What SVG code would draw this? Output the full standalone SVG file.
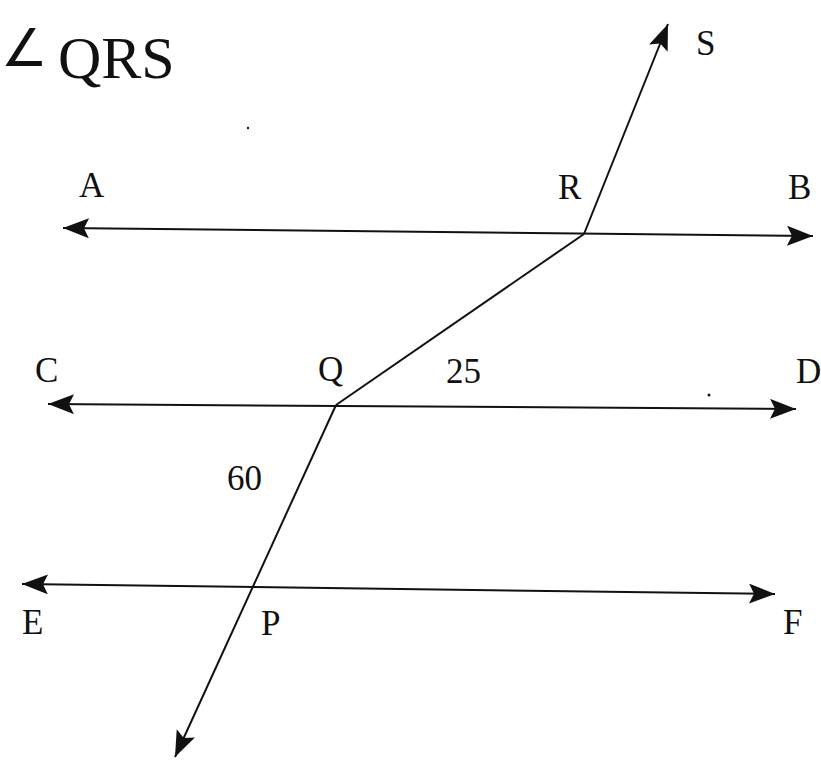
<svg xmlns="http://www.w3.org/2000/svg" width="821" height="763" viewBox="0 0 821 763">
<style>
.ln{stroke:#111;stroke-width:2;fill:none}
.lbl{font-family:"Liberation Serif","Times New Roman",serif;font-size:35px;fill:#111}
.title{font-family:"Liberation Serif","Times New Roman",serif;font-size:60px;fill:#111}
</style>
<defs>
<marker id="ah" markerUnits="userSpaceOnUse" markerWidth="28" markerHeight="22" refX="26" refY="10" orient="auto-start-reverse" viewBox="0 0 28 22">
<path d="M0,0 L26,10 L0,20 L5,10 z" fill="#111"/>
</marker>
</defs>
<rect width="821" height="763" fill="#fff"/>
<text class="title" y="78"><tspan x="1" y="66" font-family="DejaVu Sans, sans-serif" font-size="52">∠</tspan><tspan x="43" y="78" font-family="Liberation Serif, serif"> QRS</tspan></text>
<g id="connectors">
<line id="AB" class="ln" x1="63" y1="228" x2="813" y2="236" marker-start="url(#ah)" marker-end="url(#ah)"/>
<line id="CD" class="ln" x1="48" y1="404" x2="796" y2="409" marker-start="url(#ah)" marker-end="url(#ah)"/>
<line id="EF" class="ln" x1="22" y1="584" x2="775" y2="594" marker-start="url(#ah)" marker-end="url(#ah)"/>
<line id="RS" class="ln" x1="584" y1="234" x2="668" y2="24" marker-end="url(#ah)"/>
<line id="QR" class="ln" x1="336" y1="405" x2="584" y2="234"/>
<line id="QP" class="ln" x1="336" y1="405" x2="175" y2="757" marker-end="url(#ah)"/>
</g>
<circle cx="709" cy="395" r="1.5" fill="#111"/>
<circle cx="248" cy="128" r="1.2" fill="#111"/>
<g id="node-S"><text class="lbl" x="696" y="55">S</text></g>
<g id="node-A"><text class="lbl" x="79" y="197">A</text></g>
<g id="node-R"><text class="lbl" x="558" y="199">R</text></g>
<g id="node-B"><text class="lbl" x="788" y="199">B</text></g>
<g id="node-C"><text class="lbl" x="35" y="382">C</text></g>
<g id="node-Q"><text class="lbl" x="318" y="381">Q</text></g>
<g id="label-25"><text class="lbl" x="446" y="383">25</text></g>
<g id="node-D"><text class="lbl" x="796" y="383" font-size="32">D</text></g>
<g id="label-60"><text class="lbl" x="227" y="490">60</text></g>
<g id="node-E"><text class="lbl" x="22" y="634">E</text></g>
<g id="node-P"><text class="lbl" x="261" y="635">P</text></g>
<g id="node-F"><text class="lbl" x="783" y="634">F</text></g>
</svg>
